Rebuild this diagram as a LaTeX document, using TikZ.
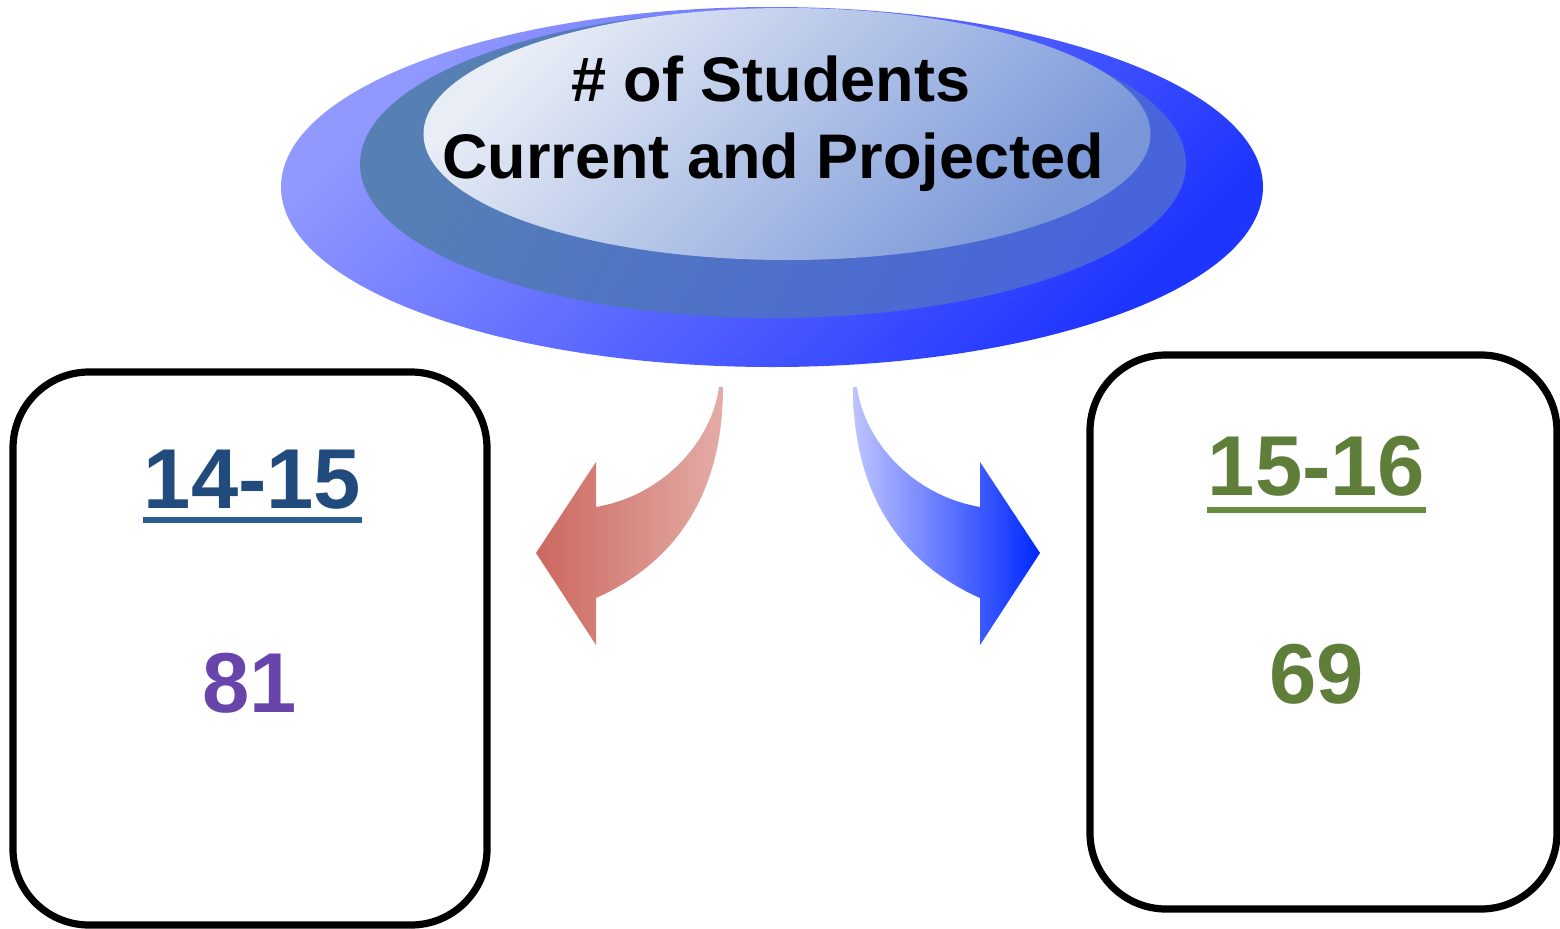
\documentclass[tikz,border=0pt]{standalone}
\usepackage{fontspec}
\setmainfont{Liberation Sans}
\usetikzlibrary{shapes.geometric,calc}
\definecolor{outA}{RGB}{145,152,255}
\definecolor{outB}{RGB}{30,52,255}
\definecolor{midA}{RGB}{86,128,180}
\definecolor{midB}{RGB}{72,100,218}
\definecolor{inA}{RGB}{232,237,246}
\definecolor{inB}{RGB}{120,150,216}
\definecolor{redA}{RGB}{204,104,96}
\definecolor{redB}{RGB}{228,172,167}
\definecolor{bluA}{RGB}{190,196,255}
\definecolor{bluB}{RGB}{0,40,255}
\definecolor{yrBlue}{RGB}{33,75,125}
\definecolor{ulBlue}{RGB}{40,95,145}
\definecolor{numPurple}{RGB}{104,69,170}
\definecolor{yrGreen}{RGB}{94,126,58}
\definecolor{ulGreen}{RGB}{105,140,65}
\tikzset{
  ell/.style={ellipse, inner sep=0pt, draw=none},
  yearbox/.style={draw=black, line width=3.6pt, rounded corners=38pt, inner sep=0pt, fill=white},
  title/.style={font=\bfseries\fontsize{31.5}{38}\selectfont, text=black, anchor=base, inner sep=0pt},
  big/.style={font=\bfseries\fontsize{42.5}{50}\selectfont, anchor=base, inner sep=0pt},
  uline/.style={line width=2.6pt}
}
\begin{document}
\begin{tikzpicture}[x=0.5pt,y=-0.5pt]
\useasboundingbox (0,0) rectangle (1560,928);
% ellipses
\node[ell, minimum width=491pt, minimum height=180pt, top color=outA, bottom color=outB, shading angle=45] (outer) at (772,187) {};
\node[ell, minimum width=413pt, minimum height=154pt, top color=midA, bottom color=midB, shading angle=60] (middle) at (773,164) {};
\node[ell, minimum width=363.5pt, minimum height=126pt, top color=inA, bottom color=inB, shading angle=45] (inner) at (787,134) {};
\node[title] (t1) at (771,101) {\# of Students};
\node[title] (t2) at (773,178) {Current and Projected};
% curved arrows
\shade[left color=redA, right color=redB]
  (596,462) -- (536,553) -- (596,645) -- (596,598)
  .. controls (670,565) and (723,500) .. (723,387)
  -- (719,387)
  .. controls (712,440) and (665,495) .. (596,507) -- cycle;
\shade[left color=bluA, right color=bluB]
  (980,462) -- (1040,553) -- (980,645) -- (980,598)
  .. controls (906,565) and (853,500) .. (853,387)
  -- (857,387)
  .. controls (864,440) and (911,495) .. (980,507) -- cycle;
% boxes
\node[yearbox, minimum width=237pt, minimum height=276.5pt] (boxL) at (250,648.5) {};
\node[yearbox, minimum width=233.5pt, minimum height=277pt] (boxR) at (1323.5,632) {};
% texts
\node[big, text=yrBlue] (yL) at (252.5,508) {14-15};
\draw[uline, ulBlue] ($(yL.base west)+(0,12)$) -- ($(yL.base east)+(0,12)$);
\node[big, text=numPurple] (nL) at (250,712) {81};
\node[big, text=yrGreen] (yR) at (1316.5,495) {15-16};
\draw[uline, ulGreen] ($(yR.base west)+(0,15)$) -- ($(yR.base east)+(0,15)$);
\node[big, text=yrGreen] (nR) at (1317,703) {69};
\end{tikzpicture}
\end{document}
